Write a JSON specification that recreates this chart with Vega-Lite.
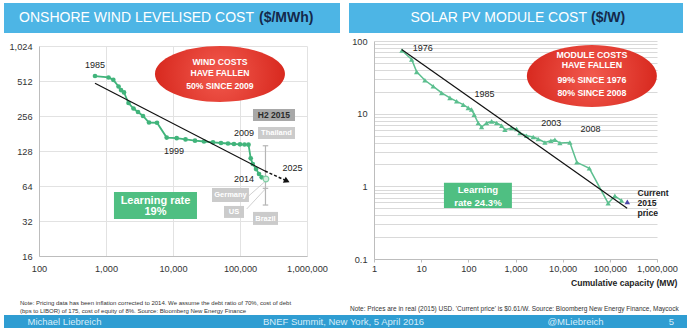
{
"$schema": "https://vega.github.io/schema/vega-lite/v6.json",
"background": "white",
"padding": {"left": 4, "top": 3, "right": 0, "bottom": 0},
"config": {
  "font": "Liberation Sans",
  "view": {"stroke": null},
  "axis": {"labelFont": "Liberation Sans", "labelColor": "#333333", "labelFontSize": 9.2},
  "text": {"font": "Liberation Sans"},
  "title": {"font": "Liberation Sans"}
},
"spacing": 1,
"vconcat": [
{
"spacing": 9,
"hconcat": [
{
"spacing": 9,
"vconcat": [
{
  "width": 336, "height": 30,
  "view": {"fill": "#4db5e5", "stroke": null},
  "data": {"values": [{"title": "ONSHORE WIND LEVELISED COST", "unit": "($/MWh)"}]},
  "layer": [
    {"mark": {"type": "text", "align": "right", "dx": 82, "fontSize": 14, "color": "#ffffff"}, "encoding": {"text": {"field": "title"}}},
    {"mark": {"type": "text", "align": "left", "dx": 87, "fontSize": 14, "fontWeight": "bold", "color": "#14284b"}, "encoding": {"text": {"field": "unit"}}}
  ]
},
{
"spacing": 0,
"hconcat": [
{"width": 1, "height": 1, "data": {"values": []}, "mark": {"type": "point", "opacity": 0}},
{
  "width": 268, "height": 210,
  "title": {"text": ["Note: Pricing data has been inflation corrected to 2014. We assume the debt ratio of 70%, cost of debt", "(bps to LIBOR) of 175, cost of equity of 8%. Source: Bloomberg New Energy Finance"], "orient": "bottom", "anchor": "start", "frame": "bounds", "fontSize": 6, "fontWeight": "normal", "color": "#333333", "lineHeight": 7.5, "offset": 27, "dx": 15},
  "encoding": {
    "x": {"field": "capacity", "type": "quantitative", "title": null,
          "scale": {"type": "log", "domain": [100, 1000000], "nice": false},
          "axis": {"values": [100, 1000, 10000, 100000, 1000000], "format": ",", "grid": true, "gridColor": "#e2e2e2", "ticks": false, "domainColor": "#bdbdbd", "labelPadding": 8, "labelFlush": false, "labelOverlap": false}},
    "y": {"field": "cost", "type": "quantitative", "title": null,
          "scale": {"type": "log", "base": 2, "domain": [16, 1024], "nice": false},
          "axis": {"values": [16, 32, 64, 128, 256, 512, 1024], "format": ",", "grid": true, "gridColor": "#e2e2e2", "ticks": false, "domainColor": "#bdbdbd", "labelPadding": 7, "minExtent": 34, "labelOverlap": false}}
  },
  "layer": [
    {"data": {"values": [{"capacity": 50200, "cost": 588}]},
     "mark": {"type": "point", "shape": "M-1,0A1,0.43,0,1,0,1,0A1,0.43,0,1,0,-1,0Z", "size": 16900, "filled": true, "opacity": 1, "strokeWidth": 0,
              "fill": {"gradient": "radial", "stops": [{"offset": 0, "color": "#f25a4e"}, {"offset": 1, "color": "#d8291f"}]}}},
    {"data": {"values": [{"capacity": 50200, "cost": 750, "label": "WIND COSTS"}, {"capacity": 50200, "cost": 596, "label": "HAVE FALLEN"}, {"capacity": 50200, "cost": 467, "label": "50% SINCE 2009"}]},
     "mark": {"type": "text", "fontSize": 8.6, "fontWeight": "bold", "color": "#ffffff"},
     "encoding": {"text": {"field": "label"}}},
    {"data": {"values": [{"capacity": 1315, "capacity_end": 22800, "cost": 33.3, "cost_end": 56.8}]},
     "mark": {"type": "rect", "color": "#4fbf82"},
     "encoding": {"x2": {"field": "capacity_end"}, "y2": {"field": "cost_end"}}},
    {"data": {"values": [{"capacity": 5480, "cost": 47.8, "label": "Learning rate"}, {"capacity": 5480, "cost": 38.0, "label": "19%"}]},
     "mark": {"type": "text", "fontSize": 11, "fontWeight": "bold", "color": "#ffffff"},
     "encoding": {"text": {"field": "label"}}},
    {"data": {"values": [{"capacity": 136000, "capacity_end": 244000, "cost": 52.8, "cost_end": 71.1}, {"capacity": 126000, "capacity_end": 244000, "cost": 40.6, "cost_end": 61.1}]},
     "mark": {"type": "rule", "color": "#c4c4c4", "strokeWidth": 0.8},
     "encoding": {"x2": {"field": "capacity_end"}, "y2": {"field": "cost_end"}}},
    {"data": {"values": [{"capacity": 240000, "cost": 43.9, "cost_end": 142}]},
     "mark": {"type": "rule", "color": "#b5b5b5", "strokeWidth": 1.2},
     "encoding": {"y2": {"field": "cost_end"}}},
    {"data": {"values": [{"capacity": 240000, "cost": 43.9}, {"capacity": 240000, "cost": 142}, {"capacity": 240000, "cost": 61.1}]},
     "mark": {"type": "point", "shape": "stroke", "size": 30, "color": "#b5b5b5", "strokeWidth": 1.2, "opacity": 1}},
    {"data": {"values": [{"capacity": 156300, "capacity_end": 662000, "cost": 232, "cost_end": 294}]},
     "mark": {"type": "rect", "color": "#a8a8a8"},
     "encoding": {"x2": {"field": "capacity_end"}, "y2": {"field": "cost_end"}}},
    {"data": {"values": [{"capacity": 185800, "capacity_end": 662000, "cost": 162, "cost_end": 206}, {"capacity": 38200, "capacity_end": 136000, "cost": 46.6, "cost_end": 61.5}, {"capacity": 57700, "capacity_end": 114800, "cost": 34.0, "cost_end": 43.1}, {"capacity": 156300, "capacity_end": 369000, "cost": 29.6, "cost_end": 38.3}]},
     "mark": {"type": "rect", "color": "#cbcbcb"},
     "encoding": {"x2": {"field": "capacity_end"}, "y2": {"field": "cost_end"}}},
    {"data": {"values": [{"capacity": 321000, "cost": 261, "label": "H2 2015"}]},
     "mark": {"type": "text", "fontSize": 8.5, "fontWeight": "bold", "color": "#2b2b2b"},
     "encoding": {"text": {"field": "label"}}},
    {"data": {"values": [{"capacity": 351000, "cost": 183, "label": "Thailand"}, {"capacity": 72100, "cost": 53.6, "label": "Germany"}, {"capacity": 81300, "cost": 38.3, "label": "US"}, {"capacity": 240000, "cost": 33.6, "label": "Brazil"}]},
     "mark": {"type": "text", "fontSize": 7.5, "fontWeight": "bold", "color": "#ffffff"},
     "encoding": {"text": {"field": "label"}}},
    {"data": {"values": [{"capacity": 685, "cost": 565}, {"capacity": 1090, "cost": 549}, {"capacity": 1285, "cost": 524}, {"capacity": 1540, "cost": 459}, {"capacity": 1675, "cost": 428}, {"capacity": 1857, "cost": 408}, {"capacity": 2168, "cost": 331}, {"capacity": 2573, "cost": 297}, {"capacity": 3004, "cost": 277}, {"capacity": 3568, "cost": 256}, {"capacity": 4385, "cost": 225}, {"capacity": 5770, "cost": 224}, {"capacity": 8050, "cost": 167}, {"capacity": 11350, "cost": 165}, {"capacity": 15380, "cost": 161}, {"capacity": 21300, "cost": 157}, {"capacity": 29000, "cost": 154.5}, {"capacity": 39500, "cost": 152}, {"capacity": 52000, "cost": 150}, {"capacity": 66200, "cost": 148.5}, {"capacity": 81300, "cost": 147}, {"capacity": 100000, "cost": 146}, {"capacity": 116700, "cost": 145.5}, {"capacity": 134000, "cost": 145}, {"capacity": 144500, "cost": 110.8}, {"capacity": 155000, "cost": 99}, {"capacity": 173500, "cost": 89.6}, {"capacity": 192300, "cost": 81.2}, {"capacity": 211000, "cost": 76}, {"capacity": 244000, "cost": 73.5}]},
     "layer": [
       {"mark": {"type": "line", "color": "#41b47b", "strokeWidth": 1.8}},
       {"transform": [{"filter": "datum.capacity < 240000"}], "mark": {"type": "point", "shape": "circle", "filled": true, "size": 22, "color": "#41b47b", "opacity": 1}},
       {"transform": [{"filter": "datum.capacity >= 240000"}], "mark": {"type": "point", "shape": "circle", "filled": true, "size": 32, "fill": "#d4efe0", "stroke": "#80cfa5", "strokeWidth": 1.2, "opacity": 1}}
     ]},
    {"data": {"values": [{"capacity": 685, "cost": 489, "segment": "fit"}, {"capacity": 236000, "cost": 86.1, "segment": "fit"}, {"capacity": 236000, "cost": 86.1, "segment": "projection"}, {"capacity": 502000, "cost": 70.7, "segment": "projection"}]},
     "layer": [
       {"transform": [{"filter": "datum.segment == 'fit'"}], "mark": {"type": "line", "color": "#111111", "strokeWidth": 1.2}},
       {"transform": [{"filter": "datum.segment == 'projection'"}], "mark": {"type": "line", "color": "#111111", "strokeWidth": 1.5, "strokeDash": [3, 2]}},
       {"transform": [{"filter": "datum.segment == 'projection' && datum.capacity > 300000"}], "mark": {"type": "point", "shape": "triangle-right", "angle": 25, "size": 45, "filled": true, "color": "#111111", "opacity": 1}}
     ]},
    {"data": {"values": [{"capacity": 685, "cost": 703, "label": "1985"}, {"capacity": 10350, "cost": 128, "label": "1999"}, {"capacity": 114800, "cost": 183, "label": "2009"}, {"capacity": 114800, "cost": 73.5, "label": "2014"}, {"capacity": 610000, "cost": 91.4, "label": "2025"}]},
     "mark": {"type": "text", "fontSize": 9, "color": "#222222"},
     "encoding": {"text": {"field": "label"}}}
  ]
}
]
}
]
},
{
"spacing": 4,
"vconcat": [
{
  "width": 334, "height": 30,
  "view": {"fill": "#4db5e5", "stroke": null},
  "data": {"values": [{"title": "SOLAR PV MODULE COST", "unit": "($/W)"}]},
  "layer": [
    {"mark": {"type": "text", "align": "right", "dx": 71, "fontSize": 14, "color": "#ffffff"}, "encoding": {"text": {"field": "title"}}},
    {"mark": {"type": "text", "align": "left", "dx": 75, "fontSize": 14, "fontWeight": "bold", "color": "#14284b"}, "encoding": {"text": {"field": "unit"}}}
  ]
},
{
"spacing": 0,
"hconcat": [
{"width": 1, "height": 1, "data": {"values": []}, "mark": {"type": "point", "opacity": 0}},
{
  "width": 283, "height": 218,
  "title": {"text": "Note: Prices are in real (2015) USD. 'Current price' is $0.61/W. Source: Bloomberg New Energy Finance, Maycock", "orient": "bottom", "anchor": "start", "frame": "bounds", "fontSize": 6.5, "fontWeight": "normal", "color": "#333333", "offset": 19, "dx": 0},
  "encoding": {
    "x": {"field": "capacity", "type": "quantitative", "title": "Cumulative capacity (MW)",
          "scale": {"type": "log", "domain": [1, 1000000], "nice": false},
          "axis": {"values": [1, 10, 100, 1000, 10000, 100000, 1000000], "format": ",", "grid": false, "ticks": true, "tickSize": 3, "tickColor": "#bdbdbd", "domainColor": "#bdbdbd", "labelPadding": 2, "labelFlush": false, "labelOverlap": false,
                   "titleFontSize": 8.6, "titleFontWeight": "bold", "titleColor": "#222222", "titleAnchor": "end", "titleX": 303, "titlePadding": 5}},
    "y": {"field": "price", "type": "quantitative", "title": null,
          "scale": {"type": "log", "domain": [0.1, 100], "nice": false},
          "axis": {"values": [0.1, 0.2, 0.3, 0.4, 0.5, 0.6, 0.7, 0.8, 0.9, 1, 2, 3, 4, 5, 6, 7, 8, 9, 10, 20, 30, 40, 50, 60, 70, 80, 90, 100],
                   "labelExpr": "(datum.value == 0.1 || datum.value == 1 || datum.value == 10 || datum.value == 100) ? datum.label : ''",
                   "format": "~g", "grid": true, "gridColor": "#d9d9d9", "ticks": false, "domainColor": "#bdbdbd", "labelPadding": 7, "minExtent": 24, "labelOverlap": false}}
  },
  "layer": [
    {"data": {"values": [{"capacity": 41600, "price": 32.9}]},
     "mark": {"type": "point", "shape": "M-1,0A1,0.477,0,1,0,1,0A1,0.477,0,1,0,-1,0Z", "size": 16900, "filled": true, "opacity": 1, "strokeWidth": 0,
              "fill": {"gradient": "radial", "stops": [{"offset": 0, "color": "#f25a4e"}, {"offset": 1, "color": "#d8291f"}]}}},
    {"data": {"values": [{"capacity": 41600, "price": 63.7, "label": "MODULE COSTS"}, {"capacity": 41600, "price": 46.4, "label": "HAVE FALLEN"}, {"capacity": 41600, "price": 29.4, "label": "99% SINCE 1976"}, {"capacity": 41600, "price": 19.3, "label": "80% SINCE 2008"}]},
     "mark": {"type": "text", "fontSize": 8.8, "fontWeight": "bold", "color": "#ffffff"},
     "encoding": {"text": {"field": "label"}}},
    {"data": {"values": [{"capacity": 30.4, "capacity_end": 839, "price": 0.505, "price_end": 1.118}]},
     "mark": {"type": "rect", "color": "#4fbf82"},
     "encoding": {"x2": {"field": "capacity_end"}, "y2": {"field": "price_end"}}},
    {"data": {"values": [{"capacity": 160, "price": 0.895, "label": "Learning"}, {"capacity": 160, "price": 0.598, "label": "rate 24.3%"}]},
     "mark": {"type": "text", "fontSize": 9.6, "fontWeight": "bold", "color": "#ffffff"},
     "encoding": {"text": {"field": "label"}}},
    {"data": {"values": [{"capacity": 3.92, "price": 74.0}, {"capacity": 6.29, "price": 55.6}, {"capacity": 8.03, "price": 37.6}, {"capacity": 12.0, "price": 28.8}, {"capacity": 18.0, "price": 23.8}, {"capacity": 27.2, "price": 19.3}, {"capacity": 40.7, "price": 16.5}, {"capacity": 56.5, "price": 14.8}, {"capacity": 78, "price": 13.3}, {"capacity": 99.5, "price": 12.0}, {"capacity": 117, "price": 11.4}, {"capacity": 133, "price": 9.7}, {"capacity": 162, "price": 7.44}, {"capacity": 191, "price": 6.56}, {"capacity": 244, "price": 7.44}, {"capacity": 312, "price": 7.83}, {"capacity": 398, "price": 7.44}, {"capacity": 508, "price": 6.83}, {"capacity": 596, "price": 6.01}, {"capacity": 826, "price": 6.35}, {"capacity": 1055, "price": 6.15}, {"capacity": 1240, "price": 5.42}, {"capacity": 1718, "price": 4.97}, {"capacity": 2371, "price": 4.77}, {"capacity": 3027, "price": 4.48}, {"capacity": 4198, "price": 4.02}, {"capacity": 5623, "price": 4.25}, {"capacity": 6840, "price": 4.38}, {"capacity": 8730, "price": 3.94}, {"capacity": 14220, "price": 4.02}, {"capacity": 20000, "price": 2.14}, {"capacity": 36800, "price": 1.77}, {"capacity": 92000, "price": 0.586}, {"capacity": 127600, "price": 0.739}, {"capacity": 177000, "price": 0.637}]},
     "mark": {"type": "line", "color": "#5cbf8f", "strokeWidth": 1.5, "point": {"shape": "triangle-up", "size": 28, "filled": true, "color": "#5cbf8f", "opacity": 1}}},
    {"data": {"values": [{"capacity": 235000, "price": 0.61}]},
     "mark": {"type": "point", "shape": "triangle-up", "size": 30, "filled": true, "color": "#4b47a8", "opacity": 1}},
    {"data": {"values": [{"capacity": 3.86, "price": 76.4}, {"capacity": 232500, "price": 0.5}]},
     "mark": {"type": "line", "color": "#111111", "strokeWidth": 1.2}},
    {"data": {"values": [{"capacity": 10.8, "price": 80.6, "label": "1976"}, {"capacity": 219, "price": 18.7, "label": "1985"}, {"capacity": 5700, "price": 7.45, "label": "2003"}, {"capacity": 39000, "price": 6.21, "label": "2008"}]},
     "mark": {"type": "text", "fontSize": 9, "color": "#222222"},
     "encoding": {"text": {"field": "label"}}},
    {"data": {"values": [{"capacity": 386000, "price": 0.821, "label": "Current"}, {"capacity": 386000, "price": 0.587, "label": "2015"}, {"capacity": 386000, "price": 0.427, "label": "price"}]},
     "mark": {"type": "text", "align": "left", "fontSize": 8.6, "fontWeight": "bold", "color": "#222222"},
     "encoding": {"text": {"field": "label"}}}
  ]
}
]
}
]
}
]
},
{
  "width": 683, "height": 14,
  "view": {"fill": "#2f9dd2", "stroke": null},
  "data": {"values": [{"author": "Michael Liebreich", "event": "BNEF Summit, New York, 5 April 2016", "handle": "@MLiebreich", "page": "5"}]},
  "layer": [
    {"mark": {"type": "text", "align": "left", "dx": -318, "fontSize": 9.5, "color": "#d6ecf8"}, "encoding": {"text": {"field": "author"}}},
    {"mark": {"type": "text", "align": "center", "dx": -2, "fontSize": 9.5, "color": "#d6ecf8"}, "encoding": {"text": {"field": "event"}}},
    {"mark": {"type": "text", "align": "center", "dx": 230, "fontSize": 9.5, "color": "#d6ecf8"}, "encoding": {"text": {"field": "handle"}}},
    {"mark": {"type": "text", "align": "center", "dx": 326, "fontSize": 9.5, "color": "#d6ecf8"}, "encoding": {"text": {"field": "page"}}}
  ]
}
]
}
